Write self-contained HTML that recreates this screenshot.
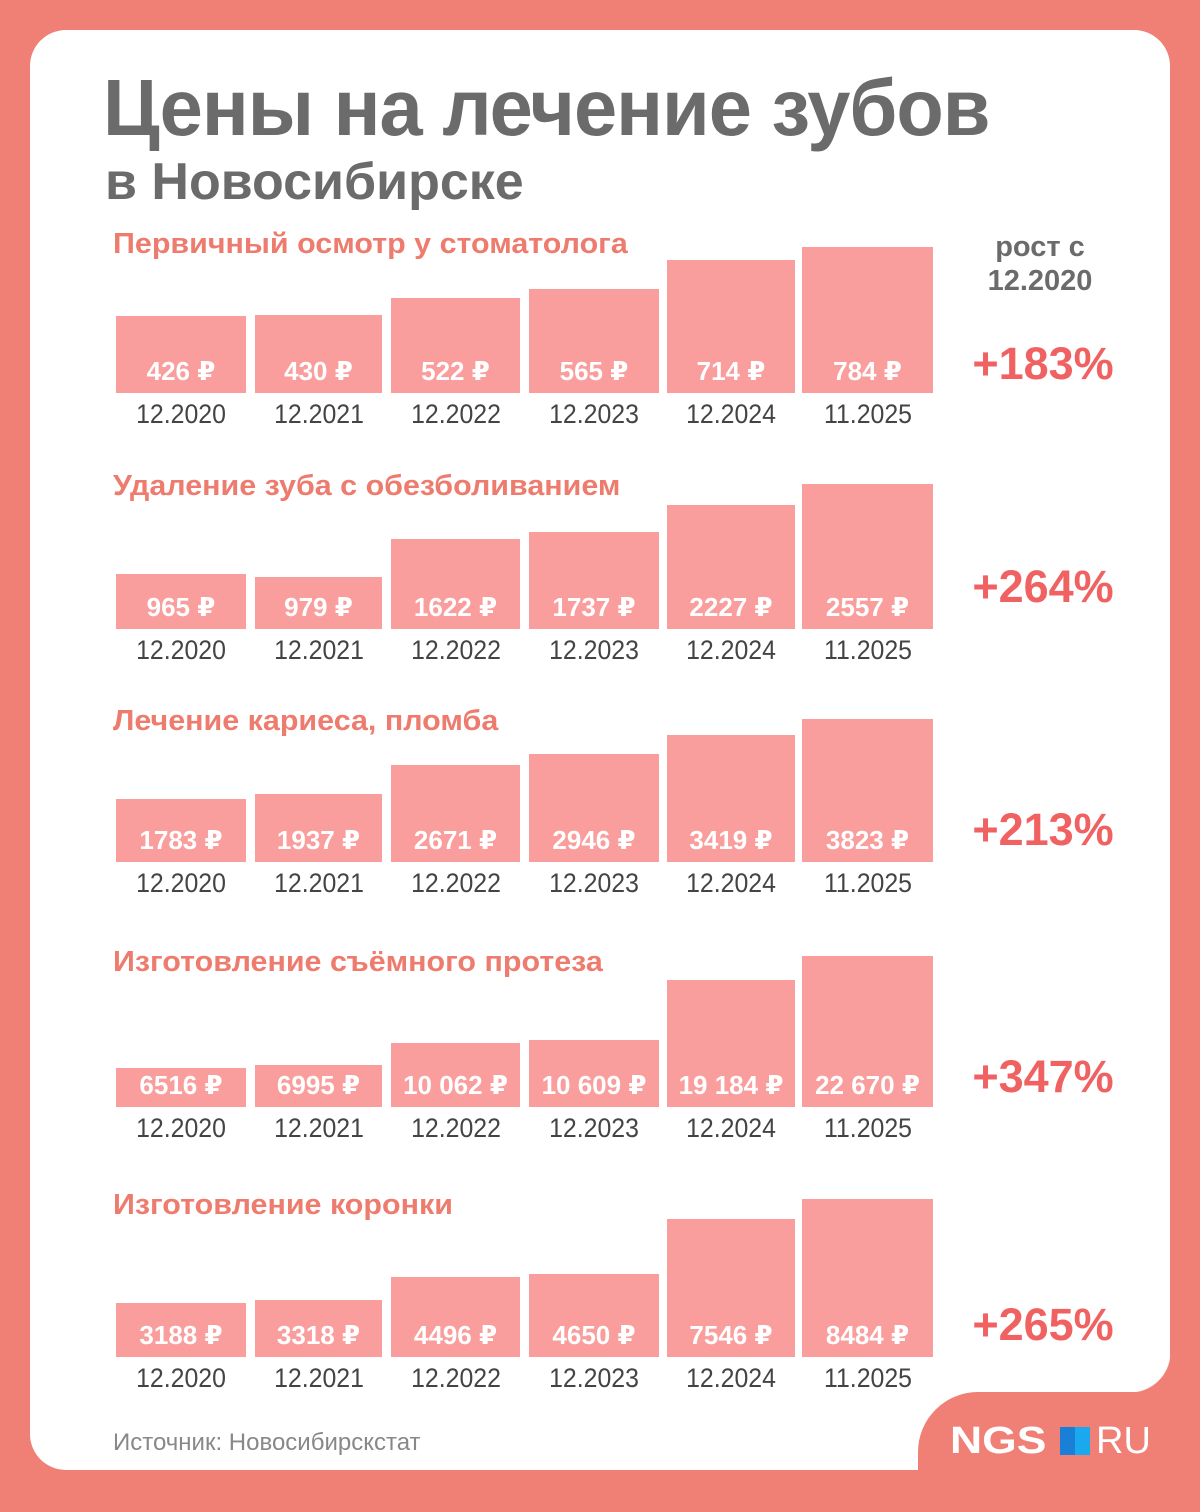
<!DOCTYPE html>
<html><head><meta charset="utf-8"><style>
body{margin:0;width:1200px;height:1500px;background:#f08075;position:relative;overflow:hidden;font-family:"Liberation Sans","DejaVu Sans",sans-serif}
.card{position:absolute;left:30px;top:30px;width:1140px;height:1440px;background:#fff;border-radius:36px}
.cut{position:absolute;left:918px;top:1392px;width:300px;height:120px;background:#f08075;border-top-left-radius:60px}
.cut2{position:absolute;left:1130px;top:1352px;width:40px;height:40px;background:radial-gradient(circle at 0 0,#fff 40px,#f08075 41px)}
.t1{position:absolute;left:103px;top:62px;font-size:80px;font-weight:bold;color:#6b6b6b;letter-spacing:-1px;transform:scaleX(0.97);transform-origin:left;white-space:nowrap}
.t2{position:absolute;left:105px;top:152px;font-size:52px;font-weight:bold;color:#6b6b6b;white-space:nowrap}
.st{position:absolute;left:113px;font-size:29px;font-weight:bold;color:#ee7c6e;white-space:nowrap;transform:scaleX(1.05);transform-origin:left}
.bar{position:absolute;background:#fa9d9d}
.v{position:absolute;width:160px;text-align:center;font-size:26px;font-weight:bold;color:#fff;white-space:nowrap}
.d{position:absolute;width:160px;text-align:center;font-size:27px;color:#444;transform:scaleX(0.92)}
.p{position:absolute;left:963px;width:160px;text-align:center;font-size:45px;font-weight:bold;color:#f06262}
.g{position:absolute;left:960px;width:160px;text-align:center;font-size:29px;font-weight:bold;color:#6b6b6b;line-height:34px}
.src{position:absolute;left:113px;top:1429px;font-size:24px;color:#888;white-space:nowrap}
.logo{position:absolute;left:950px;top:1420px;font-size:38px;font-weight:900;color:#fff;white-space:nowrap}
</style></head><body>
<div class="card"></div>
<div class="cut"></div><div class="cut2"></div>
<div class="t1">Цены на лечение зубов</div>
<div class="t2">в Новосибирске</div>
<div class="g" style="top:230px">рост с<br>12.2020</div>
<div class="src">Источник: Новосибирскстат</div>
<div class="logo"><span style="display:inline-block;transform:scaleX(1.17);transform-origin:left;width:110px">NGS</span><span style="display:inline-block;width:30px;height:28px;margin:0 6px 0 0;vertical-align:-2px;background:linear-gradient(90deg,#1a7fd6 50%,#1aa8ef 50%)"></span><span style="font-weight:normal">RU</span></div>
<div id="c"></div>
<script>
var xs=[[116,246],[255,382],[391,520],[529,659],[667,795],[802,933]];
var dates=["12.2020","12.2021","12.2022","12.2023","12.2024","11.2025"];
var S=[
{t:"Первичный осмотр у стоматолога",ty:228,b:393,p:"+183%",py:338,tops:[316,315,298,289,260,247],v:["426 ₽","430 ₽","522 ₽","565 ₽","714 ₽","784 ₽"]},
{t:"Удаление зуба с обезболиванием",ty:470,b:629,p:"+264%",py:561,tops:[574,577,539,532,505,484],v:["965 ₽","979 ₽","1622 ₽","1737 ₽","2227 ₽","2557 ₽"]},
{t:"Лечение кариеса, пломба",ty:705,b:862,p:"+213%",py:804,tops:[799,794,765,754,735,719],v:["1783 ₽","1937 ₽","2671 ₽","2946 ₽","3419 ₽","3823 ₽"]},
{t:"Изготовление съёмного протеза",ty:946,b:1107,p:"+347%",py:1051,tops:[1068,1065,1043,1040,980,956],v:["6516 ₽","6995 ₽","10 062 ₽","10 609 ₽","19 184 ₽","22 670 ₽"]},
{t:"Изготовление коронки",ty:1189,b:1357,p:"+265%",py:1299,tops:[1303,1300,1277,1274,1219,1199],v:["3188 ₽","3318 ₽","4496 ₽","4650 ₽","7546 ₽","8484 ₽"]}];
var h="";
S.forEach(function(s){
h+='<div class="st" style="top:'+s.ty+'px">'+s.t+'</div>';
h+='<div class="p" style="top:'+s.py+'px">'+s.p+'</div>';
xs.forEach(function(x,i){var c=(x[0]+x[1])/2;
h+='<div class="bar" style="left:'+x[0]+'px;width:'+(x[1]-x[0])+'px;top:'+s.tops[i]+'px;height:'+(s.b-s.tops[i])+'px"></div>';
h+='<div class="v" style="left:'+(c-80)+'px;top:'+(s.b-37)+'px">'+s.v[i]+'</div>';
h+='<div class="d" style="left:'+(c-80)+'px;top:'+(s.b+6)+'px">'+dates[i]+'</div>';});
});
document.getElementById("c").innerHTML=h;
</script>
</body></html>
